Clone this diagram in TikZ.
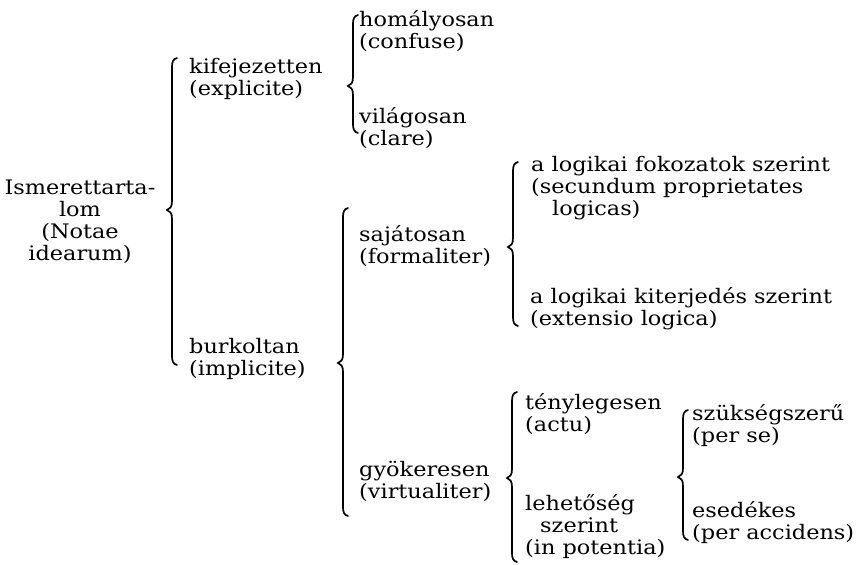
\documentclass[tikz,border=0pt]{standalone}
\usepackage{fontspec}
\setmainfont{DejaVu Serif}[FakeStretch=1.12]
\newcommand{\mybrace}[4]{%
  \draw[brc] ({#1+5},#2) .. controls ({#1+1},{#2+1}) and (#1,{#2+4}) .. (#1,{#2+9})
    -- (#1,{#3-9}) .. controls (#1,{#3-3}) and ({#1-2},{#3-1}) .. ({#1-5},#3)
    .. controls ({#1-2},{#3+1}) and (#1,{#3+3}) .. (#1,{#3+9})
    -- (#1,{#4-9}) .. controls (#1,{#4-4}) and ({#1+1},{#4-1}) .. ({#1+5},#4);}
\begin{document}
\begin{tikzpicture}[x=1pt,y=-1pt,
  lbl/.style={anchor=west,inner sep=0pt,align=left,font=\fontsize{20}{22}\selectfont},
  brc/.style={line width=1.7pt,line cap=round}]
\useasboundingbox (0,0) rectangle (860,565);
\fill[white] (0,0) rectangle (860,565);
% texts
\node[lbl,anchor=center,align=center] (root) at (80,222) {Ismerettarta-\\lom\\(Notae\\idearum)};
\node[lbl] (kif) at (189,79) {kifejezetten\\(explicite)};
\node[lbl] (burk) at (189,359) {burkoltan\\(implicite)};
\node[lbl] (hom) at (359,31) {homályosan\\(confuse)};
\node[lbl] (vil) at (359,128) {világosan\\(clare)};
\node[lbl] (saj) at (359,246) {sajátosan\\(formaliter)};
\node[lbl] (gyok) at (359,481) {gyökeresen\\(virtualiter)};
\node[lbl] (lfok) at (531,188) {a logikai fokozatok szerint\\(secundum proprietates\\\hspace*{21pt}logicas)};
\node[lbl] (lkit) at (530,309) {a logikai kiterjedés szerint\\(extensio logica)};
\node[lbl] (teny) at (525,414) {ténylegesen\\(actu)};
\node[lbl] (leh) at (525,527) {lehetőség\\\hspace*{15pt}szerint\\(in potentia)};
\node[lbl] (szuk) at (692,426) {szükségszerű\\(per se)};
\node[lbl] (esed) at (692,523) {esedékes\\(per accidens)};
% braces
\mybrace{172}{58}{210}{365}
\mybrace{353}{15}{86}{133}
\mybrace{343}{208}{363}{516}
\mybrace{513}{162}{247}{326}
\mybrace{512}{392}{478}{562}
\mybrace{683}{410}{477}{540}
\end{tikzpicture}
\end{document}
